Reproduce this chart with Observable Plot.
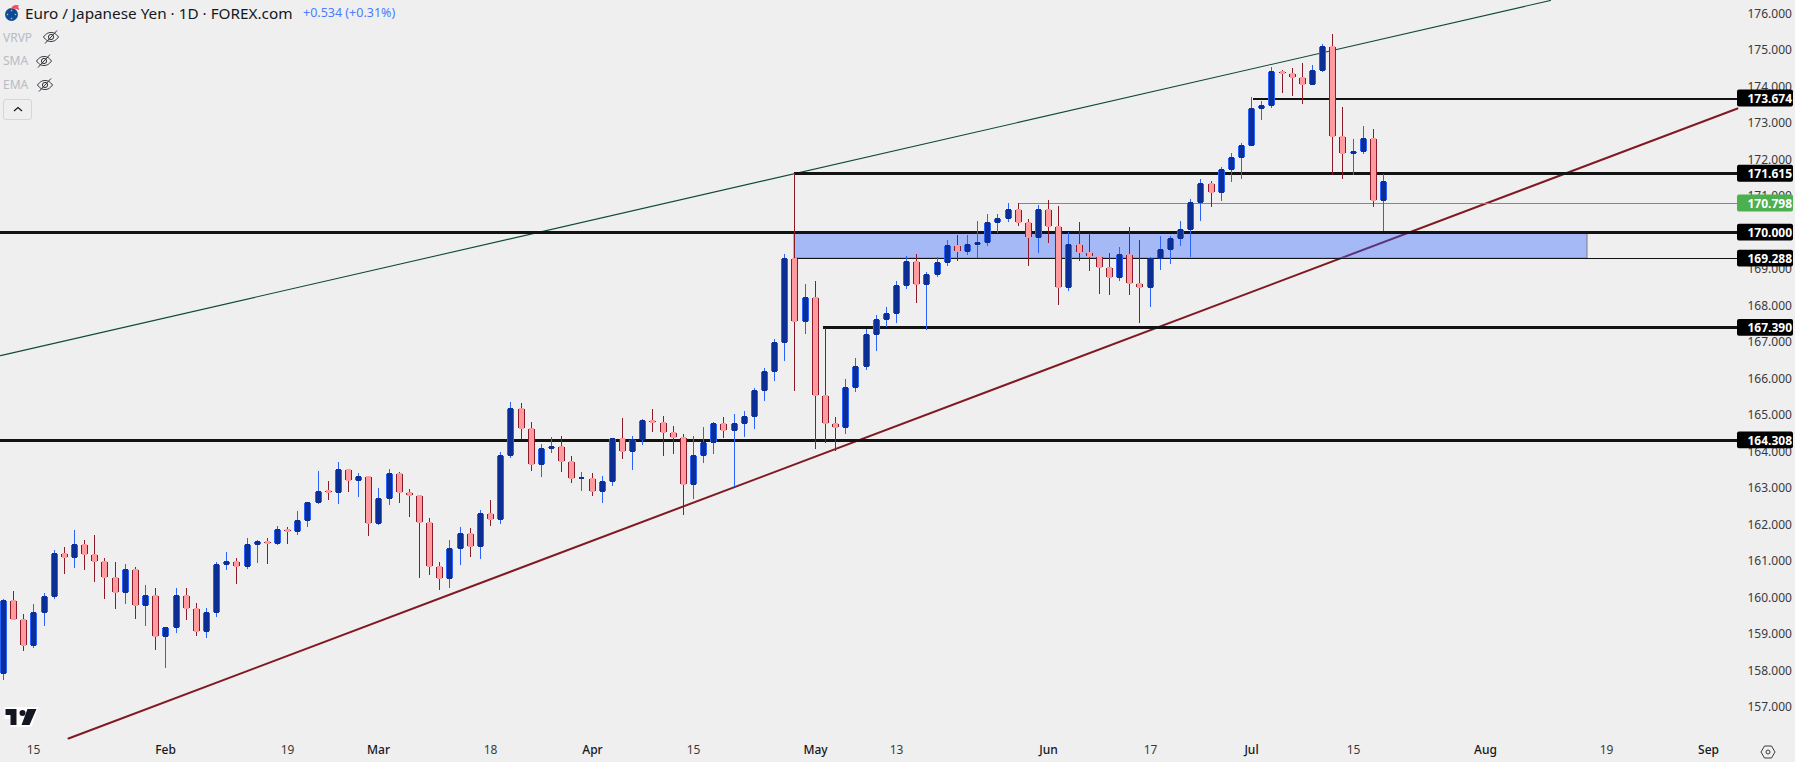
<!DOCTYPE html>
<html>
<head>
<meta charset="utf-8">
<title>Euro / Japanese Yen 1D</title>
<script src="https://cdn.jsdelivr.net/npm/d3@7"></script>
<script src="https://cdn.jsdelivr.net/npm/@observablehq/plot@0.6"></script>
<style>
html,body{margin:0;padding:0;background:#efefef;overflow:hidden}
#wrap{position:relative;width:1795px;height:762px;font-family:"Noto Sans",sans-serif}
#wrap svg{display:block}
.ov{position:absolute;white-space:nowrap;line-height:1}
</style>
</head>
<body>
<div id="wrap"></div>
<script>
const opens = [157.91,159.91,159.39,158.67,159.58,160.02,161.20,161.09,161.45,161.17,
160.98,160.54,160.13,160.76,159.78,160.05,158.93,159.17,160.05,159.69,
159.06,159.58,160.90,160.98,160.84,161.45,161.53,161.47,161.86,161.80,
162.10,162.60,162.91,162.87,163.50,163.20,163.31,162.02,162.71,163.39,
162.87,162.79,162.05,160.84,160.51,161.34,161.75,161.39,162.30,162.13,
163.88,165.17,164.62,163.64,164.08,164.13,163.72,163.24,163.25,162.90,
163.17,164.35,163.99,164.32,164.84,164.79,164.51,164.38,163.09,163.88,
164.24,164.76,164.57,164.76,164.95,165.67,166.19,166.98,169.28,167.56,
168.21,165.53,164.76,164.65,165.75,166.32,167.20,167.61,167.77,168.54,
169.20,168.57,168.84,169.17,169.64,169.47,169.66,169.72,170.27,170.38,
170.62,170.27,169.86,170.62,170.16,168.49,169.66,169.45,169.34,169.03,
168.75,169.39,168.60,168.48,169.28,169.53,169.83,170.08,170.82,171.34,
171.09,171.72,172.05,172.38,173.39,173.47,174.40,174.35,174.24,174.05,
174.43,175.09,172.62,172.16,172.21,172.57,170.87];
const closes = [159.92,159.39,158.68,159.58,160.02,161.20,161.09,161.45,161.17,160.98,
160.54,160.13,160.76,159.78,160.05,158.93,159.17,160.05,159.69,159.06,
159.58,160.90,160.98,160.84,161.45,161.53,161.47,161.86,161.80,162.10,
162.60,162.90,162.87,163.50,163.20,163.31,162.02,162.71,163.39,162.87,
162.79,162.05,160.84,160.51,161.34,161.75,161.39,162.30,162.13,163.88,
165.17,164.62,163.64,164.08,164.13,163.72,163.25,163.27,162.90,163.17,
164.35,163.99,164.32,164.84,164.79,164.51,164.38,163.09,163.88,164.24,
164.76,164.57,164.76,164.95,165.67,166.19,166.98,169.28,167.56,168.21,
165.53,164.76,164.65,165.75,166.32,167.20,167.61,167.77,168.54,169.20,
168.57,168.84,169.17,169.64,169.47,169.66,169.72,170.27,170.38,170.62,
170.27,169.86,170.62,170.16,168.49,169.66,169.45,169.33,169.03,168.75,
169.39,168.59,168.48,169.28,169.53,169.83,170.08,170.82,171.34,171.09,
171.72,172.05,172.38,173.39,173.47,174.40,174.35,174.23,174.05,174.43,
175.09,172.62,172.16,172.21,172.57,170.87,171.39];
const highs = [159.94,160.17,159.54,159.81,160.10,161.29,161.37,161.84,161.56,161.70,
161.07,160.96,160.91,160.83,160.33,160.25,159.17,160.25,160.25,159.83,
159.70,160.96,161.24,161.07,161.62,161.56,161.62,161.95,161.91,162.36,
162.61,163.46,163.18,163.70,163.50,163.40,163.31,162.99,163.51,163.43,
162.95,162.79,162.16,160.96,161.56,161.91,161.88,162.39,162.66,163.98,
165.35,165.32,164.80,164.20,164.39,164.41,163.87,163.43,163.40,163.32,
164.35,164.91,164.41,164.87,165.15,164.96,164.69,164.46,164.41,164.66,
164.80,164.93,165.02,165.10,165.73,166.28,167.07,169.40,171.61,168.58,
168.66,167.36,164.93,165.98,166.55,167.35,167.73,167.95,168.66,169.35,
169.40,168.91,169.31,169.78,169.92,169.92,170.30,170.50,170.50,170.80,
170.80,170.35,170.74,170.88,170.72,170.00,170.28,169.98,169.34,169.43,
169.59,170.14,169.78,169.31,169.89,169.89,170.30,170.91,171.46,171.40,
171.78,172.16,172.43,173.69,173.59,174.52,174.44,174.50,174.63,174.58,
175.15,175.43,173.43,172.55,172.91,172.82,171.58];
const lows = [157.73,159.39,158.53,158.61,159.21,159.95,160.63,160.80,160.74,160.41,
159.96,159.67,159.81,159.40,159.21,158.55,158.06,159.02,159.37,158.93,
158.88,159.46,160.74,160.36,160.77,160.93,160.91,161.43,161.46,161.70,
161.92,162.55,162.66,162.55,162.88,162.74,161.67,161.98,162.52,162.58,
162.19,160.52,160.61,160.20,160.25,160.88,161.11,161.04,161.96,162.01,
163.82,164.32,163.46,163.29,163.95,163.43,163.13,162.91,162.77,162.58,
163.04,163.78,163.48,164.17,164.52,163.87,163.92,162.25,162.69,163.67,
163.92,164.36,163.02,164.39,164.60,165.37,165.92,166.47,165.66,167.21,
164.06,164.22,164.00,164.47,165.62,166.22,166.74,167.39,167.51,168.44,
168.06,167.32,168.77,169.07,169.21,169.37,169.29,169.62,169.98,170.28,
170.17,169.07,169.43,169.70,168.00,168.39,169.21,168.93,168.30,168.28,
168.66,168.28,167.51,167.95,168.96,169.13,169.62,169.32,170.31,170.69,
170.85,171.37,171.46,172.38,173.07,173.40,173.81,173.73,173.51,174.05,
174.39,171.56,171.46,171.56,172.14,170.69,170.02];

const yTicks = [176,175,174,173,172,171,170,169,168,167,166,165,164,163,162,161,160,159,158,157];
const dayTickBars = [3,28,48,68,88,113,133,158];
const dayTickLabels = ["15","19","18","15","13","17","15","19"];
const monthTickBars = [16,37,58,80,103,123,146,168];
const monthTickLabels = ["Feb","Mar","Apr","May","Jun","Jul","Aug","Sep"];

const levelPrices = [173.674,171.615,170,169.288,167.39,164.308];
const levelStartBars = [123.2,78,-0.3,78,80.8,-0.3];
const levelWeights = [2,3,3,1,3,3];
const lastPrice = 170.798;
const lastPriceStartBar = 100;
const zoneBars = [78,156.1];
const zonePrices = [170,169.288];
const greenTrendBars = [-0.3,152.46], greenTrendPrices = [166.63,176.36];
const redTrendBars = [6.41,170.9], redTrendPrices = [156.14,173.40];

const paneEndBar = 170.9;
const tagStartBar = 170.9, tagEndBar = 176.4, tagHalfHeight = 0.232, tagTextBar = 171.87;

const UP_FILL="#0c2f96", UP_LINE="#2962ff", DOWN_FILL="#ff9a9f", DOWN_LINE="#8b1a2b";
const candles = opens.map((o,i)=>({i,o,c:closes[i],h:highs[i],l:lows[i],up:closes[i]>o,
  top:Math.max(o,closes[i]),bot:Math.min(o,closes[i])}));
const levels = levelPrices.map((p,k)=>({p,start:levelStartBars[k],w:levelWeights[k]}));
const tags = [...levelPrices.map(p=>({p,fill:"#000000"})),{p:lastPrice,fill:"#4caf50"}];
const line2 = (xs,ys)=>xs.map((x,k)=>({x,y:ys[k]}));
const txtFont = '"Noto Sans",sans-serif';

const chart = Plot.plot({
  width:1795,height:762,
  marginTop:0,marginLeft:0,marginRight:58,marginBottom:24,
  style:{background:"#efefef",fontFamily:txtFont,overflow:"hidden"},
  x:{type:"linear",domain:[0,176.5],range:[3,1794],round:true,axis:null},
  y:{type:"linear",domain:[176.359,156.14],range:[0,738],axis:null},
  marks:[
    Plot.axisY(yTicks,{anchor:"right",tickSize:0,tickPadding:10,tickFormat:d=>d.toFixed(3),label:null,fontSize:12,fill:"#3a3a3a",dy:0.5,textAnchor:"start"}),
    Plot.axisX(dayTickBars,{anchor:"bottom",tickSize:0,tickPadding:7,tickFormat:d=>dayTickLabels[dayTickBars.indexOf(d)],label:null,fontSize:12,fill:"#3a3a3a"}),
    Plot.axisX(monthTickBars,{anchor:"bottom",tickSize:0,tickPadding:7,tickFormat:d=>monthTickLabels[monthTickBars.indexOf(d)],label:null,fontSize:12,fill:"#131722",fontWeight:500}),
    Plot.line(line2(greenTrendBars,greenTrendPrices),{x:"x",y:"y",stroke:"#0f4a3e",strokeWidth:1.1}),
    Plot.line(line2(redTrendBars,redTrendPrices),{x:"x",y:"y",stroke:"#801922",strokeWidth:2}),
    Plot.rect([0],{x1:()=>zoneBars[0],x2:()=>zoneBars[1],y1:()=>zonePrices[0],y2:()=>zonePrices[1],fill:"#2962ff",fillOpacity:0.38,stroke:"#787b86",strokeWidth:1}),
    Plot.ruleY(levels,{y:"p",x1:"start",x2:()=>paneEndBar,stroke:"#131313",strokeWidth:"w",shapeRendering:"crispEdges"}),
    Plot.ruleY([lastPrice],{y:d=>d,x1:()=>lastPriceStartBar,x2:()=>paneEndBar,stroke:"#4caf50",strokeWidth:1,shapeRendering:"crispEdges"}),
    Plot.ruleX(candles,{x:"i",y1:"l",y2:"h",stroke:d=>d.up?UP_LINE:DOWN_LINE,strokeWidth:1,shapeRendering:"crispEdges"}),
    Plot.ruleX(candles,{x:"i",y1:"bot",y2:"top",stroke:d=>d.up?UP_LINE:DOWN_LINE,strokeWidth:7,insetTop:-0.5,insetBottom:-0.5,shapeRendering:"crispEdges"}),
    Plot.ruleX(candles.filter(d=>d.top-d.bot>0.03),{x:"i",y1:"bot",y2:"top",stroke:d=>d.up?UP_FILL:DOWN_FILL,strokeWidth:5,insetTop:0.5,insetBottom:0.5,shapeRendering:"crispEdges"}),
    Plot.rect(tags,{x1:()=>tagStartBar,x2:()=>tagEndBar,y1:d=>d.p+tagHalfHeight,y2:d=>d.p-tagHalfHeight,fill:"fill",rx:2}),
    Plot.text(tags,{x:()=>tagTextBar,y:"p",text:d=>d.p.toFixed(3),fill:"#ffffff",textAnchor:"start",fontSize:12,fontWeight:700,dy:0.5})
  ]
});
const wrap=document.getElementById("wrap");
wrap.appendChild(chart);

const eye=(x,y)=>`<svg class="ov" style="left:${x}px;top:${y}px" width="18" height="16" viewBox="0 0 18 16" fill="none" stroke="#2f3238" stroke-width="1"><path d="M1.5 8C4 4.5 6.5 3.5 9 3.5S14 4.5 16.5 8C14 11.5 11.5 12.5 9 12.5S4 11.5 1.5 8Z"/><circle cx="9" cy="8" r="2.6"/><path d="M3 14.5L15 1.5"/></svg>`;
const overlay=`
<svg class="ov" style="left:2px;top:3px" width="20" height="19" viewBox="0 0 20 19">
  <circle cx="9.5" cy="11.5" r="6.5" fill="#0b4b9e"/>
  <g fill="#f2c230"><circle cx="9.5" cy="7.5" r=".8"/><circle cx="13.5" cy="11.5" r=".8"/><circle cx="9.5" cy="15.5" r=".8"/><circle cx="5.5" cy="11.5" r=".8"/></g>
  <path d="M9 6C10 2 14 1 18 3L17 7C14 5.5 12 5.5 9 6Z" fill="#f25060"/>
  <circle cx="18" cy="4" r="1.6" fill="#ffffff" stroke="#dddddd" stroke-width=".5"/>
</svg>
<div class="ov" style="left:25px;top:6px;font-size:15.3px;color:#131722">Euro / Japanese Yen · 1D · FOREX.com</div>
<div class="ov" style="left:303px;top:7px;font-size:12.5px;color:#4a7dff">+0.534 (+0.31%)</div>
<div class="ov" style="left:3px;top:32px;font-size:12px;color:#b8bbc4">VRVP</div>${eye(42,29)}
<div class="ov" style="left:3px;top:55px;font-size:12px;color:#b8bbc4">SMA</div>${eye(35,53)}
<div class="ov" style="left:3px;top:79px;font-size:12px;color:#b8bbc4">EMA</div>${eye(36,77)}
<div class="ov" style="left:3px;top:99px;width:27px;height:19px;border:1px solid #d4d6dc;border-radius:3px"></div>
<svg class="ov" style="left:12px;top:105px" width="12" height="8" viewBox="0 0 12 8" fill="none" stroke="#131722" stroke-width="1.2"><path d="M2 6L6 2.5L10 6"/></svg>
<svg class="ov" style="left:4px;top:707px" width="35" height="20" viewBox="0 0 34 20">
  <path d="M0 0H34L27 20H6V12H0Z" fill="#ffffff"/>
  <path d="M1 2H12V18H6V8H1Z" fill="#131722"/><circle cx="18" cy="6" r="3" fill="#131722"/><path d="M23 2H32L25 18H17Z" fill="#131722"/>
</svg>
<svg class="ov" style="left:1760px;top:744px" width="16" height="16" viewBox="0 0 16 16" fill="none" stroke="#3a3a3a" stroke-width="1"><path d="M1 8L4.5 2H11.5L15 8L11.5 14H4.5Z"/><circle cx="8" cy="8" r="2"/></svg>`;
wrap.insertAdjacentHTML("beforeend",overlay);
</script>
</body>
</html>
